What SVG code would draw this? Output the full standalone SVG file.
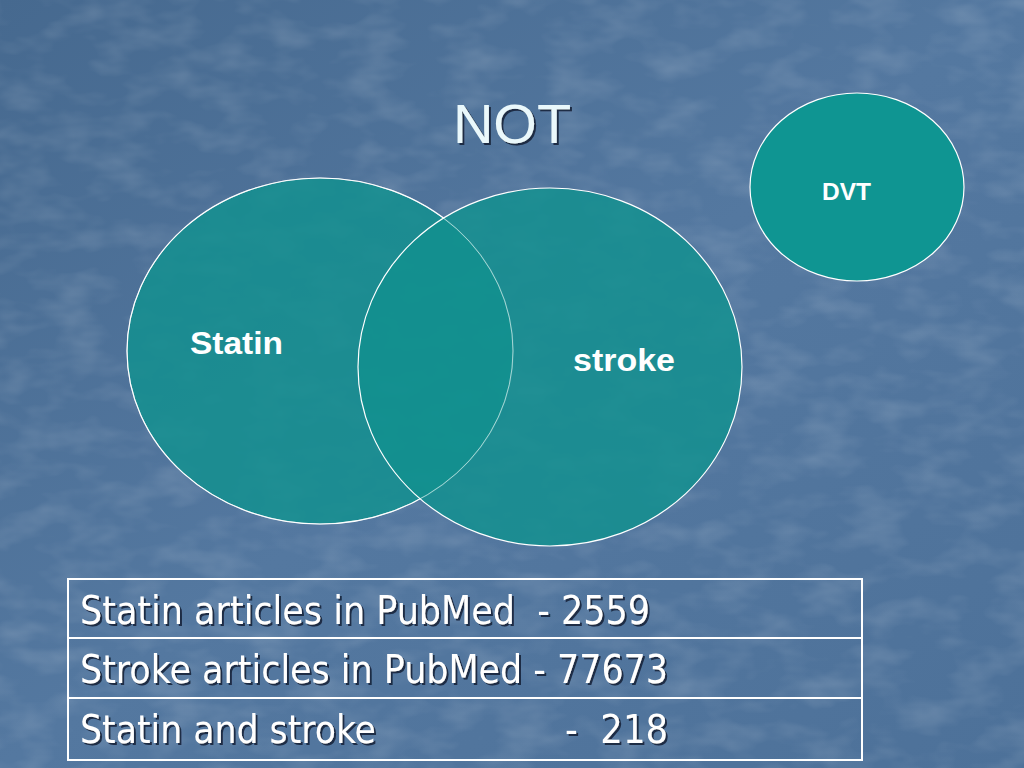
<svg xmlns="http://www.w3.org/2000/svg" width="1024" height="768" viewBox="0 0 1024 768">
<defs>
<linearGradient id="bg" x1="0" y1="0" x2="1" y2="1">
<stop offset="0" stop-color="#46698f"/>
<stop offset="0.5" stop-color="#5478a0"/>
<stop offset="1" stop-color="#4d7199"/>
</linearGradient>
<filter id="tex" x="0" y="0" width="100%" height="100%">
<feTurbulence type="fractalNoise" baseFrequency="0.02 0.04" numOctaves="3" seed="4" result="n"/>
<feColorMatrix in="n" type="matrix" values="0 0 0 0 1  0 0 0 0 1  0 0 0 0 1  0 0 0 0.9 -0.38" result="w"/>
<feComposite in="w" in2="SourceGraphic" operator="in"/>
</filter>
<filter id="sh" x="-5%" y="-5%" width="110%" height="120%">
<feDropShadow dx="2" dy="2" stdDeviation="0.6" flood-color="#14243a" flood-opacity="0.9"/>
</filter>
</defs>
<style>
.venn{fill:#12908f;fill-opacity:0.84;stroke:#ffffff;stroke-width:1.2}
.lbl{font-family:"Liberation Sans",Arial,sans-serif;font-weight:bold;fill:#ffffff}
.row{font-family:"DejaVu Sans Condensed","DejaVu Sans",sans-serif;font-size:39px;fill:#ffffff}
.cell{fill:none;stroke:#ffffff;stroke-width:2}
</style>
<rect width="1024" height="768" fill="url(#bg)"/>
<rect width="1024" height="768" fill="#ffffff" filter="url(#tex)" opacity="0.3"/>
<text x="512" y="143" text-anchor="middle" font-family="'Liberation Sans',Arial,sans-serif" font-size="56" fill="#eaf8fb" filter="url(#sh)">NOT</text>
<g id="statin">
<ellipse class="venn" cx="320" cy="351" rx="193" ry="173"/>
<text class="lbl" x="190" y="354" font-size="31" textLength="93" lengthAdjust="spacingAndGlyphs">Statin</text>
</g>
<g id="stroke">
<ellipse class="venn" cx="550" cy="367" rx="192" ry="179"/>
<ellipse cx="320" cy="351" rx="193" ry="173" fill="none" stroke="#ffffff" stroke-opacity="0.55" stroke-width="1"/>
<text class="lbl" x="573" y="371" font-size="31" textLength="102" lengthAdjust="spacingAndGlyphs">stroke</text>
</g>
<g id="dvt">
<ellipse cx="857" cy="187" rx="107" ry="94" fill="#0f9592" stroke="#ffffff" stroke-width="1.2"/>
<text class="lbl" x="822" y="200" font-size="23" textLength="49" lengthAdjust="spacingAndGlyphs">DVT</text>
</g>
<g id="connectors"></g>
<g id="table">
<rect class="cell" x="68" y="579" width="794" height="181"/>
<line class="cell" x1="68" y1="638" x2="862" y2="638"/>
<line class="cell" x1="68" y1="698" x2="862" y2="698"/>
<g filter="url(#sh)">
<text class="row" x="80" y="624" xml:space="preserve" textLength="570" lengthAdjust="spacingAndGlyphs">Statin articles in PubMed  - 2559</text>
<text class="row" x="80" y="683" textLength="588" lengthAdjust="spacingAndGlyphs">Stroke articles in PubMed - 77673</text>
<text class="row" x="80" y="743" textLength="296" lengthAdjust="spacingAndGlyphs">Statin and stroke</text>
<text class="row" x="565" y="743" xml:space="preserve" textLength="103" lengthAdjust="spacingAndGlyphs">-  218</text>
</g>
</g>
</svg>
